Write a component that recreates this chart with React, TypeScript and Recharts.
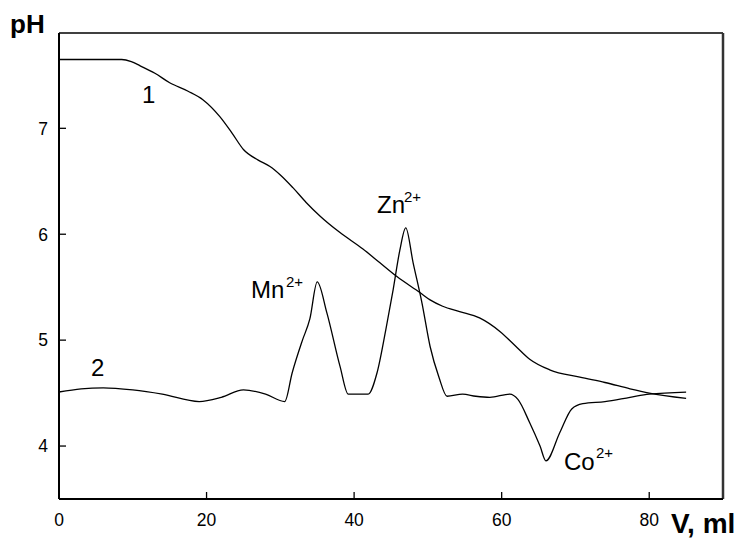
import React from "react";
import { LineChart, Line, XAxis, YAxis, ReferenceLine } from "recharts";

const curve1V = [0, 5, 8.5, 9.8, 11, 13, 15, 17.5, 19.5, 21.8, 23.5, 25, 27, 28.6, 30, 31.7, 33.5, 35.4, 38, 41.2, 43.5, 45.8, 48.9, 50.3, 52, 54.3, 57, 59.8, 61.8, 63.8, 66.5, 70.6, 74, 77.4, 80, 85];
const curve1PH = [7.65, 7.65, 7.65, 7.63, 7.59, 7.52, 7.43, 7.35, 7.27, 7.11, 6.95, 6.8, 6.7, 6.64, 6.56, 6.44, 6.3, 6.17, 6.02, 5.86, 5.73, 5.6, 5.45, 5.38, 5.32, 5.27, 5.21, 5.08, 4.95, 4.82, 4.72, 4.65, 4.6, 4.54, 4.5, 4.45];

const curve2V = [0, 3, 6, 10, 14, 19, 22, 25, 28, 30.6, 31.6, 33, 34, 35, 36.3, 38.1, 39.2, 41.9, 43.1, 44.3, 45.3, 46.2, 47, 48, 49.2, 50.3, 51.5, 52.6, 54.7, 56.5, 58.4, 61.1, 62.2, 63.8, 65.2, 66, 67.9, 69.5, 71, 74, 77.4, 80, 85];
const curve2PH = [4.51, 4.54, 4.55, 4.53, 4.49, 4.42, 4.46, 4.53, 4.49, 4.42, 4.69, 5.0, 5.2, 5.55, 5.26, 4.75, 4.49, 4.49, 4.69, 5.1, 5.48, 5.85, 6.06, 5.73, 5.35, 4.94, 4.65, 4.47, 4.49, 4.47, 4.46, 4.49, 4.44, 4.22, 4.0, 3.86, 4.13, 4.35, 4.4, 4.42, 4.46, 4.49, 4.51];

const xTicks = [0, 20, 40, 60, 80];
const yTicks = [4, 5, 6, 7];
const xDomain = [0, 90];
const yDomain = [3.5, 7.9];

const data1 = curve1V.map((v, i) => ({ v, ph: curve1PH[i] }));
const data2 = curve2V.map((v, i) => ({ v, ph: curve2PH[i] }));

const FONT = "'Liberation Sans', Arial, sans-serif";

const YTick = (props: any) => {
  const { x, y, payload } = props;
  return (
    <g>
      <line x1={x} x2={x + 7} y1={y} y2={y} stroke="#000" strokeWidth={1.3} />
      <text x={x - 11} y={y} dy="0.36em" textAnchor="end" fontSize={17.5} fontFamily={FONT} fill="#000">
        {payload.value}
      </text>
    </g>
  );
};

const XTick = (props: any) => {
  const { x, y, payload } = props;
  return (
    <g>
      <line x1={x} x2={x} y1={y} y2={y - 7} stroke="#000" strokeWidth={1.3} />
      <text x={x} y={y + 27} textAnchor="middle" fontSize={17.5} fontFamily={FONT} fill="#000">
        {payload.value}
      </text>
    </g>
  );
};

export default function App() {
  return (
    <div style={{ position: "absolute", left: 0, top: 0, width: 743, height: 544, background: "#fff" }}>
      <LineChart
        width={743}
        height={544}
        margin={{ top: 33, left: 58, right: 20, bottom: 44 }}
      >
        <XAxis
          dataKey="v"
          type="number"
          domain={xDomain}
          ticks={xTicks}
          height={1}
          tickSize={0}
          tickMargin={0}
          tick={<XTick />}
          axisLine={{ stroke: "#000", strokeWidth: 2 }}
          allowDataOverflow
          interval={0}
        />
        <YAxis
          dataKey="ph"
          type="number"
          domain={yDomain}
          ticks={yTicks}
          width={1}
          tickSize={0}
          tickMargin={0}
          tick={<YTick />}
          axisLine={{ stroke: "#000", strokeWidth: 2 }}
          allowDataOverflow
          interval={0}
        />
        <ReferenceLine y={7.9} stroke="#000" strokeWidth={1.5} ifOverflow="visible" />
        <ReferenceLine x={90} stroke="#333" strokeWidth={2.5} ifOverflow="visible" />
        <Line data={data1} dataKey="ph" type="monotone" stroke="#000" strokeWidth={1.3} dot={false} isAnimationActive={false} />
        <Line data={data2} dataKey="ph" type="monotone" stroke="#000" strokeWidth={1.3} dot={false} isAnimationActive={false} />
      </LineChart>
      <svg
        width={743}
        height={544}
        style={{ position: "absolute", left: 0, top: 0, pointerEvents: "none" }}
        fontFamily={FONT}
      >
        <text x={10} y={33} fontSize={26} fontWeight="bold" fill="#000">pH</text>
        <text x={671} y={533} fontSize={28} fontWeight="bold" fill="#000">V, ml</text>
        <text x={142} y={103} fontSize={24} fill="#000">1</text>
        <text x={91} y={376} fontSize={24} fill="#000">2</text>
        <text x={251} y={298} fontSize={24} fill="#000">Mn</text>
        <text x={286} y={287} fontSize={15} fill="#000">2+</text>
        <text x={377} y={213} fontSize={24} fill="#000">Zn</text>
        <text x={404} y={202} fontSize={15} fill="#000">2+</text>
        <text x={564} y={470} fontSize={24} fill="#000">Co</text>
        <text x={596} y={458} fontSize={15} fill="#000">2+</text>
      </svg>
    </div>
  );
}
